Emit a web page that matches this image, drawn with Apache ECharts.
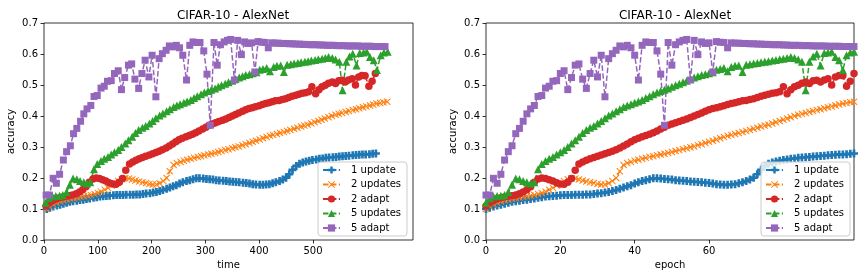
<!DOCTYPE html>
<html><head><meta charset="utf-8">
<script src="https://cdn.jsdelivr.net/npm/echarts@6/dist/echarts.min.js"></script>
<style>html,body{margin:0;padding:0;background:#fff}#c{width:864px;height:278px}</style>
</head><body><div id="c"></div>
<script>
// ---------------- DATA ----------------
const chartTitle = 'CIFAR-10 - AlexNet';
const seriesNames = ['1 update', '2 updates', '2 adapt', '5 updates', '5 adapt'];
const timeTicks = [0, 100, 200, 300, 400, 500, 600];
const epochTicks = [0, 20, 40, 60, 80];

const epochs = [0,1,2,3,4,5,6,7,8,9,10,11,12,13,14,15,16,17,18,19,20,21,22,23,24,25,26,27,28,29,
  30,31,32,33,34,35,36,37,38,39,40,41,42,43,44,45,46,47,48,49,50,51,52,53,54,55,56,57,58,59,
  60,61,62,63,64,65,66,67,68,69,70,71,72,73,74,75,76,77,78,79,80,81,82,83,84,85,86,87,88,89,
  90,91,92,93,94,95,96,97,98,99];

// elapsed time at each epoch, per run
const time1Update = [5,11,17,24,30,36,42,48,54,61,67,73,79,85,92,98,104,110,116,122,129,135,141,147,153,160,166,172,178,184,
  190,197,203,209,215,221,228,234,240,246,252,258,265,271,277,283,289,296,302,308,314,320,326,333,339,345,351,357,363,370,
  376,382,388,394,401,407,413,419,425,431,438,444,450,456,462,469,475,481,487,493,499,506,512,518,524,530,537,543,549,555,
  561,567,574,580,586,592,598,605,611,617];
const time2Updates = [4,10,17,23,30,36,42,49,55,62,68,74,81,87,94,100,106,113,119,126,132,138,145,151,158,164,170,177,183,190,
  196,202,209,215,222,228,234,241,247,254,260,266,273,279,286,292,298,305,311,318,324,330,337,343,350,356,362,369,375,382,
  388,394,401,407,414,420,426,433,439,446,452,458,465,471,478,484,490,497,503,510,516,522,529,535,542,548,554,561,567,574,
  580,586,593,599,606,612,618,625,631,638];
const time2Adapt = [4,10,16,23,29,35,41,47,53,60,66,72,78,84,91,97,103,109,115,121,128,134,140,146,152,159,165,171,177,183,
  189,196,202,208,214,220,227,233,239,245,251,257,264,270,276,282,288,295,301,307,313,319,325,332,338,344,350,356,362,369,
  375,381,387,393,400,406,412,418,424,430,437,443,449,455,461,468,474,480,486,492,498,505,511,517,523,529,536,542,548,554,
  560,566,573,579,585,591,597,604,610,616];
const time5Updates = [3,9,16,22,29,35,42,48,54,61,67,74,80,86,93,99,106,112,119,125,131,138,144,151,157,164,170,176,183,189,
  196,202,208,215,221,228,234,241,247,253,260,266,273,279,285,292,298,305,311,318,324,330,337,343,350,356,363,369,375,382,
  388,395,401,407,414,420,427,433,440,446,452,459,465,472,478,485,491,497,504,510,517,523,529,536,542,549,555,562,568,574,
  581,587,594,600,606,613,619,626,632,639];
const time5Adapt = [4,10,17,23,29,36,42,49,55,61,68,74,80,87,93,99,106,112,118,125,131,138,144,150,157,163,169,176,182,188,
  195,201,208,214,220,227,233,239,246,252,258,265,271,277,284,290,297,303,309,316,322,328,335,341,347,354,360,367,373,379,
  386,392,398,405,411,417,424,430,436,443,449,456,462,468,475,481,487,494,500,506,513,519,526,532,538,545,551,557,564,570,
  576,583,589,595,602,608,615,621,627,634];

// accuracy at each epoch, per run
const acc1Update = [0.100,0.104,0.108,0.111,0.114,0.117,0.120,0.123,0.125,0.127,
  0.129,0.130,0.132,0.134,0.136,0.138,0.140,0.141,0.142,0.143,
  0.144,0.145,0.145,0.145,0.146,0.146,0.146,0.147,0.147,0.148,
  0.150,0.151,0.153,0.155,0.158,0.161,0.165,0.169,0.173,0.177,
  0.182,0.186,0.190,0.193,0.196,0.199,0.199,0.198,0.197,0.196,
  0.195,0.193,0.192,0.191,0.190,0.189,0.188,0.187,0.186,0.185,
  0.184,0.182,0.180,0.179,0.178,0.178,0.179,0.180,0.183,0.186,
  0.190,0.195,0.201,0.212,0.226,0.239,0.246,0.250,0.253,0.256,
  0.258,0.260,0.262,0.263,0.265,0.266,0.267,0.268,0.269,0.270,
  0.271,0.272,0.273,0.274,0.275,0.276,0.276,0.277,0.278,0.279];
const acc2Updates = [0.100,0.108,0.115,0.120,0.125,0.128,0.131,0.133,0.135,0.137,
  0.139,0.141,0.143,0.145,0.148,0.152,0.156,0.162,0.168,0.176,
  0.183,0.190,0.196,0.199,0.198,0.195,0.192,0.189,0.186,0.184,
  0.181,0.179,0.179,0.183,0.190,0.200,0.222,0.242,0.248,0.252,
  0.256,0.259,0.262,0.265,0.268,0.270,0.273,0.276,0.278,0.281,
  0.284,0.287,0.290,0.293,0.296,0.299,0.302,0.306,0.309,0.313,
  0.317,0.320,0.324,0.328,0.332,0.336,0.339,0.342,0.345,0.348,
  0.352,0.355,0.359,0.362,0.366,0.369,0.372,0.376,0.380,0.384,
  0.388,0.392,0.396,0.400,0.404,0.407,0.410,0.413,0.416,0.419,
  0.422,0.425,0.428,0.431,0.434,0.437,0.440,0.442,0.444,0.446];
const acc2Adapt = [0.110,0.120,0.127,0.132,0.136,0.139,0.141,0.143,0.145,0.149,
  0.155,0.162,0.172,0.186,0.197,0.200,0.198,0.194,0.190,0.185,
  0.181,0.180,0.186,0.198,0.225,0.245,0.252,0.257,0.262,0.266,
  0.270,0.274,0.278,0.282,0.286,0.291,0.297,0.303,0.310,0.317,
  0.323,0.328,0.333,0.337,0.341,0.346,0.352,0.358,0.364,0.370,
  0.374,0.378,0.382,0.386,0.390,0.395,0.400,0.405,0.410,0.415,
  0.420,0.424,0.427,0.430,0.433,0.437,0.440,0.443,0.446,0.449,
  0.450,0.453,0.456,0.460,0.464,0.467,0.470,0.473,0.475,0.478,
  0.494,0.472,0.485,0.494,0.499,0.506,0.510,0.505,0.514,0.515,
  0.510,0.516,0.520,0.500,0.526,0.531,0.530,0.496,0.512,0.537];
const acc5Updates = [0.120,0.135,0.140,0.142,0.143,0.145,0.155,0.178,0.198,0.196,
  0.190,0.186,0.182,0.186,0.228,0.245,0.255,0.262,0.268,0.276,
  0.283,0.290,0.300,0.311,0.322,0.333,0.345,0.355,0.362,0.368,
  0.376,0.384,0.393,0.402,0.408,0.415,0.422,0.429,0.434,0.438,
  0.443,0.447,0.452,0.458,0.464,0.470,0.476,0.481,0.485,0.489,
  0.494,0.499,0.504,0.509,0.514,0.519,0.524,0.528,0.532,0.535,
  0.538,0.541,0.549,0.552,0.555,0.544,0.558,0.562,0.563,0.542,
  0.565,0.567,0.569,0.571,0.573,0.575,0.577,0.579,0.581,0.583,
  0.585,0.587,0.590,0.587,0.582,0.575,0.483,0.575,0.592,0.601,
  0.563,0.603,0.605,0.607,0.590,0.580,0.548,0.596,0.605,0.607];
const acc5Adapt = [0.145,0.145,0.199,0.183,0.212,0.258,0.285,0.304,0.343,0.360,
  0.383,0.407,0.423,0.434,0.463,0.466,0.490,0.496,0.512,0.514,
  0.537,0.546,0.485,0.524,0.564,0.568,0.519,0.489,0.537,0.580,
  0.526,0.596,0.462,0.585,0.601,0.612,0.626,0.623,0.628,0.620,
  0.596,0.516,0.628,0.639,0.637,0.637,0.610,0.535,0.370,0.637,
  0.564,0.630,0.639,0.644,0.647,0.516,0.644,0.598,0.639,0.634,
  0.636,0.542,0.640,0.638,0.637,0.620,0.636,0.635,0.635,0.634,
  0.634,0.633,0.633,0.632,0.632,0.631,0.631,0.630,0.630,0.630,
  0.629,0.629,0.628,0.628,0.628,0.627,0.627,0.627,0.626,0.626,
  0.626,0.626,0.625,0.625,0.625,0.625,0.624,0.624,0.624,0.624];

// ---------------- STYLE ----------------
const FONT = 'DejaVu Sans';
const colors = ['#1f77b4', '#ff7f0e', '#d62728', '#2ca02c', '#9467bd'];
const symbols = [
  'path://M-1,-3L1,-3L1,-1L3,-1L3,1L1,1L1,3L-1,3L-1,1L-3,1L-3,-1L-1,-1Z',
  'path://M0,1L1,0L5,4L9,0L10,1L6,5L10,9L9,10L5,6L1,10L0,9L4,5Z',
  'circle', 'triangle', 'rect'
];
const symbolSizes = [8, 7, 7.5, 8, 7];
const timesList = [time1Update, time2Updates, time2Adapt, time5Updates, time5Adapt];
const accList = [acc1Update, acc2Updates, acc2Adapt, acc5Updates, acc5Adapt];

const series = [];
[0, 1].forEach(function (g) {
  seriesNames.forEach(function (name, i) {
    const xs = g === 0 ? timesList[i] : epochs;
    series.push({
      type: 'line', name: name, xAxisIndex: g, yAxisIndex: g,
      data: xs.map(function (x, k) { return [x, accList[i][k]]; }),
      symbol: symbols[i], symbolSize: symbolSizes[i], showSymbol: true,
      lineStyle: { color: colors[i], width: 1.5, type: [5.5, 2.4] },
      itemStyle: { color: colors[i], borderWidth: 0 },
      emphasis: { disabled: true }, silent: true, animation: false
    });
  });
});

function yAxis(g) {
  return {
    type: 'value', gridIndex: g, min: 0, max: 0.7, interval: 0.1,
    name: 'accuracy', nameLocation: 'middle', nameGap: 28,
    nameTextStyle: { fontSize: 10, color: '#000', fontFamily: FONT },
    axisLine: { show: false },
    axisTick: { show: true, length: 3.5, lineStyle: { color: '#000', width: 0.8 } },
    axisLabel: { fontSize: 10, color: '#000', fontFamily: FONT, margin: 6,
      formatter: function (v) { return v.toFixed(1); } },
    splitLine: { show: false }
  };
}
function xAxis(g, name, max, interval, ticks) {
  return {
    type: 'value', gridIndex: g, min: 0, max: max, interval: interval,
    name: name, nameLocation: 'middle', nameGap: 20,
    nameTextStyle: { fontSize: 10, color: '#000', fontFamily: FONT },
    axisLine: { show: false },
    axisTick: { show: true, length: 3.5, customValues: ticks, lineStyle: { color: '#000', width: 0.8 } },
    axisLabel: { fontSize: 10, color: '#000', fontFamily: FONT, margin: 6, customValues: ticks,
      showMaxLabel: false },
    splitLine: { show: false }
  };
}
function legend(right) {
  return {
    orient: 'vertical', right: right, bottom: 42,
    backgroundColor: 'rgba(255,255,255,0.8)', borderColor: '#cccccc', borderWidth: 1, borderRadius: 3,
    padding: [3, 6, 3, 4], itemWidth: 17, itemHeight: 9, itemGap: 4.5,
    textStyle: { fontSize: 10, color: '#000', fontFamily: FONT, padding: [0, 0, 0, 6] },
    data: seriesNames, selectedMode: false
  };
}

const chart = echarts.init(document.getElementById('c'), null, { renderer: 'canvas' });
chart.setOption({
  animation: false,
  textStyle: { fontFamily: FONT },
  title: [
    { text: chartTitle, left: 228, top: 5, textAlign: 'center',
      textStyle: { fontSize: 12, fontWeight: 'normal', color: '#000', fontFamily: FONT } },
    { text: chartTitle, left: 670, top: 5, textAlign: 'center',
      textStyle: { fontSize: 12, fontWeight: 'normal', color: '#000', fontFamily: FONT } }
  ],
  grid: [
    { left: 44, right: 451, top: 23, bottom: 38, show: true, borderColor: '#000', borderWidth: 0.8, backgroundColor: 'transparent' },
    { left: 486, right: 10, top: 23, bottom: 38, show: true, borderColor: '#000', borderWidth: 0.8, backgroundColor: 'transparent' }
  ],
  xAxis: [xAxis(0, 'time', 686, 100, timeTicks), xAxis(1, 'epoch', 99, 20, epochTicks)],
  yAxis: [yAxis(0), yAxis(1)],
  legend: [legend(457), legend(14)],
  series: series
});
</script>
</body></html>
